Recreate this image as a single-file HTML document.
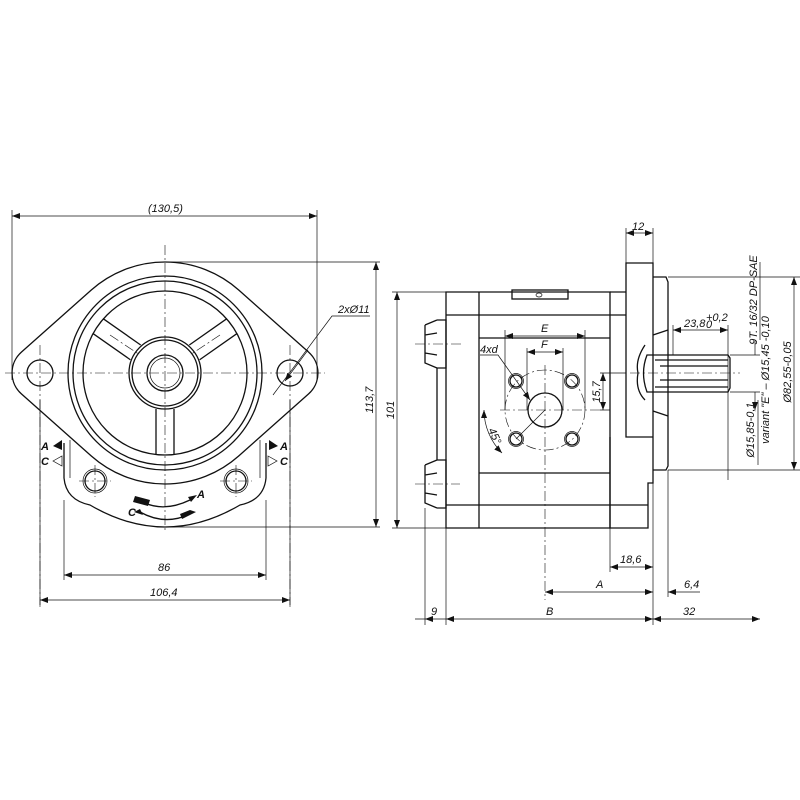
<!DOCTYPE html>
<html><head><meta charset="utf-8"><style>
html,body{margin:0;padding:0;background:#fff}
svg{display:block}
text{font-family:"Liberation Sans",sans-serif;font-style:italic;font-size:11px;fill:#111}
.b{fill:none;stroke:#111;stroke-width:1.3}
.t{fill:none;stroke:#111;stroke-width:0.7}
.c{fill:none;stroke:#111;stroke-width:0.6;stroke-dasharray:10 3 2 3}
</style></head><body>
<svg width="800" height="800" viewBox="0 0 800 800" xmlns="http://www.w3.org/2000/svg">
<defs>
<marker id="a" markerWidth="8" markerHeight="6" refX="8" refY="3" orient="auto-start-reverse" markerUnits="userSpaceOnUse"><path d="M0,0 L8,3 L0,6 z" fill="#111"/></marker>
</defs>
<!-- LEFT VIEW -->
<path class="b" d="M21.4,352.1 L91.3,290 A111,111 0 0 1 238.7,290 L308.6,352.1 A28,28 0 0 1 308.6,393.9 L238.7,456 A111,111 0 0 1 91.3,456 L21.4,393.9 A28,28 0 0 1 21.4,352.1 Z"/>
<path class="b" d="M64,443 L64,478 Q66,500 90,505 Q165,549 240,505 Q264,500 266,478 L266,443"/>
<path class="t" d="M70,440 L70,478 M260,440 L260,478"/>
<circle class="b" cx="40" cy="373" r="13"/><circle class="b" cx="290" cy="373" r="13"/>
<circle class="b" cx="95" cy="481" r="10"/><circle class="t" cx="95" cy="481" r="12"/>
<circle class="b" cx="236" cy="481" r="10"/><circle class="t" cx="236" cy="481" r="12"/>
<circle class="b" cx="165" cy="373" r="97"/><circle class="b" cx="165" cy="373" r="92"/>
<circle class="b" cx="165" cy="373" r="82"/>
<circle class="b" cx="165" cy="373" r="36"/><circle class="b" cx="165" cy="373" r="33"/>
<circle class="b" cx="165" cy="373" r="18"/><circle class="t" cx="165" cy="373" r="15"/>
<g class="b">
<path d="M156,409 L156,455 M174,409 L174,455"/>
<g transform="rotate(-35 165 373)"><path d="M201,364 L247,364 M201,382 L247,382"/></g>
<g transform="rotate(35 165 373)"><path d="M83,364 L129,364 M83,382 L129,382"/></g>
</g>
<path class="c" d="M5,373 L325,373 M165,245 L165,530 M40,345 L40,610 M290,345 L290,610 M95,465 L95,497 M79,481 L111,481 M236,465 L236,497 M220,481 L252,481 M110,335 L140,355 M220,335 L190,355"/>
<!-- rotation arrows -->
<path class="b" d="M145,503 Q165,512 190,500 M140,512 Q165,526 190,514"/>
<path d="M135,496 L150,500 L148,506 L133,502Z M190,510 L180,514 L182,519 L196,512Z M188,497 L197,495 L191,502Z M140,509 L134,512 L143,515Z" fill="#111"/>
<text x="197" y="498" font-size="9" font-weight="bold">A</text><text x="128" y="516" font-size="9" font-weight="bold">C</text>
<text x="41" y="450" font-size="11" font-style="normal" font-weight="bold">A</text><path d="M53,446 L62,440 L62,450Z" fill="#111"/>
<text x="41" y="465" font-size="11" font-style="normal" font-weight="bold">C</text><path class="t" d="M53,461 L62,456 L62,466Z"/>
<text x="280" y="450" font-size="11" font-style="normal" font-weight="bold">A</text><path d="M278,446 L269,440 L269,450Z" fill="#111"/>
<text x="280" y="465" font-size="11" font-style="normal" font-weight="bold">C</text><path class="t" d="M268,456 L277,461 L268,466Z"/>
<!-- left dims -->
<path class="t" d="M12,210 L12,380 M317,210 L317,380 M165,262 L380,262 M165,527 L380,527 M64,500 L64,580 M266,500 L266,580 M40,400 L40,605 M290,400 L290,605"/>
<path class="t" d="M12,216 L317,216" marker-start="url(#a)" marker-end="url(#a)"/>
<text x="148" y="212">(130,5)</text>
<path class="t" d="M376,262 L376,527" marker-start="url(#a)" marker-end="url(#a)"/>
<text transform="translate(373,400) rotate(-90)" text-anchor="middle">113,7</text>
<path class="t" d="M64,575 L266,575" marker-start="url(#a)" marker-end="url(#a)"/><text x="158" y="571">86</text>
<path class="t" d="M40,600 L290,600" marker-start="url(#a)" marker-end="url(#a)"/><text x="150" y="596">106,4</text>
<path class="t" d="M273,395 L332,316 L370,316"/><path class="t" d="M308,350 L285,381" marker-end="url(#a)"/>
<text x="338" y="313">2xØ11</text>
<!-- RIGHT VIEW -->
<path class="b" d="M446,292 L610,292 L610,528 L446,528 Z M479,292 L479,528 M479,338 L610,338 L610,473 L479,473 M446,315 L626,315 M446,505 L648,505"/>
<path class="b" d="M610,292 L626,292 M626,263 L653,263 L653,437 L626,437 Z M610,437 L610,528 L648,528 L648,483 L653,483 L653,437"/>
<path class="b" d="M653,277 L666,277 L668,282 L668,466 L666,470 L653,470"/>
<path class="b" d="M653,335 L668,330 M653,411 L668,416 M645,345 Q635,360 638,373 Q635,390 645,400"/>
<path class="b" d="M647,355 L728,355 L730,358 L730,388 L728,392 L647,392 Q640,373 647,355 Z M655,360 L728,360 M655,387 L728,387 M660,366 L728,366 M660,380 L728,380"/>
<path class="c" d="M630,373 L740,373"/>
<rect class="b" x="512" y="290" width="56" height="9"/><ellipse class="t" cx="539" cy="295" rx="3" ry="2"/>
<path class="b" d="M437,320 L446,320 L446,368 L437,368 M425,325 L437,320 M425,325 L425,363 L437,368 M425,335 L437,333 M425,353 L437,355 M437,368 L437,460 M437,460 L446,460 L446,508 L437,508 M425,465 L437,460 M425,465 L425,503 L437,508 M425,475 L437,473 M425,493 L437,495"/>
<path class="c" d="M415,344 L462,344 M415,484 L460,484"/>
<circle class="b" cx="545" cy="410" r="17"/>
<circle class="c" cx="545" cy="410" r="40"/>
<g class="b"><circle cx="516" cy="381" r="6"/><circle cx="572" cy="381" r="6"/><circle cx="516" cy="439" r="6"/><circle cx="572" cy="439" r="6"/></g>
<g class="t"><circle cx="516" cy="381" r="7.5"/><circle cx="572" cy="381" r="7.5"/><circle cx="516" cy="439" r="7.5"/><circle cx="572" cy="439" r="7.5"/></g>
<path class="c" d="M545,365 L545,600 M500,410 L600,410"/>
<path class="t" d="M505,330 L505,410 M585,330 L585,410 M527,348 L527,410 M563,348 L563,410 M545,410 L516,439 M600,373 L626,373 M600,410 L610,410"/>
<path class="t" d="M505,336 L585,336" marker-start="url(#a)" marker-end="url(#a)"/><text x="541" y="332">E</text>
<path class="t" d="M527,352 L563,352" marker-start="url(#a)" marker-end="url(#a)"/><text x="541" y="348">F</text>
<path class="t" d="M480,355 L498,355 L530,400" marker-end="url(#a)"/><text x="480" y="353">4xd</text>
<path class="t" d="M603,373 L603,410" marker-start="url(#a)" marker-end="url(#a)"/>
<text transform="translate(600,392) rotate(-90)" text-anchor="middle">15,7</text>
<path class="t" d="M484,410 A61,61 0 0 0 502,453" marker-start="url(#a)" marker-end="url(#a)"/>
<text transform="translate(488,430) rotate(65)" font-size="10">45°</text>
<!-- right dims -->
<path class="t" d="M626,228 L626,263 M653,228 L653,263"/>
<path class="t" d="M626,233 L653,233" marker-start="url(#a)" marker-end="url(#a)"/><text x="632" y="230">12</text>
<path class="t" d="M446,292 L392,292 M446,528 L392,528"/>
<path class="t" d="M397,292 L397,528" marker-start="url(#a)" marker-end="url(#a)"/>
<text transform="translate(394,410) rotate(-90)" text-anchor="middle">101</text>
<path class="t" d="M673,325 L673,355 M728,325 L728,480"/>
<path class="t" d="M673,330 L728,330" marker-start="url(#a)" marker-end="url(#a)"/><text x="684" y="327">23,8</text><text x="706" y="321" font-size="7">+0,2</text><text x="706" y="328" font-size="7">0</text>
<path class="t" d="M668,277 L800,277 M668,470 L800,470 M730,355 L760,355 M730,392 L760,392"/>
<path class="t" d="M794,277 L794,470" marker-start="url(#a)" marker-end="url(#a)"/>
<text transform="translate(791,372) rotate(-90)" text-anchor="middle" font-size="10">Ø82,55-0,05</text>
<path class="t" d="M755,340 L755,355 M755,392 L755,410" marker-end="url(#a)"/>
<path class="t" d="M760,262 L760,340"/>
<text transform="translate(757,300) rotate(-90)" text-anchor="middle" font-size="10">9T. 16/32 DP-SAE</text>
<text transform="translate(769,380) rotate(-90)" text-anchor="middle" font-size="10">variant "E" – Ø15,45 -0,10</text>
<text transform="translate(754,430) rotate(-90)" text-anchor="middle" font-size="10">Ø15,85-0,1</text>
<path class="t" d="M758,400 L758,465"/>
<path class="t" d="M610,528 L610,572 M653,437 L653,625 M668,470 L668,597 M425,508 L425,625 M446,528 L446,625"/>
<path class="t" d="M610,567 L653,567" marker-start="url(#a)" marker-end="url(#a)"/><text x="620" y="563">18,6</text>
<path class="t" d="M545,592 L653,592" marker-start="url(#a)" marker-end="url(#a)"/><text x="596" y="588">A</text>
<path class="t" d="M668,592 L700,592" marker-start="url(#a)"/><text x="684" y="588">6,4</text>
<path class="t" d="M446,619 L653,619" marker-start="url(#a)" marker-end="url(#a)"/><text x="546" y="615">B</text>
<path class="t" d="M415,619 L425,619 M446,619 L425,619" marker-end="url(#a)"/><text x="431" y="615">9</text>
<path class="t" d="M653,619 L760,619" marker-start="url(#a)" marker-end="url(#a)"/><text x="683" y="615">32</text>
</svg>
</body></html>
